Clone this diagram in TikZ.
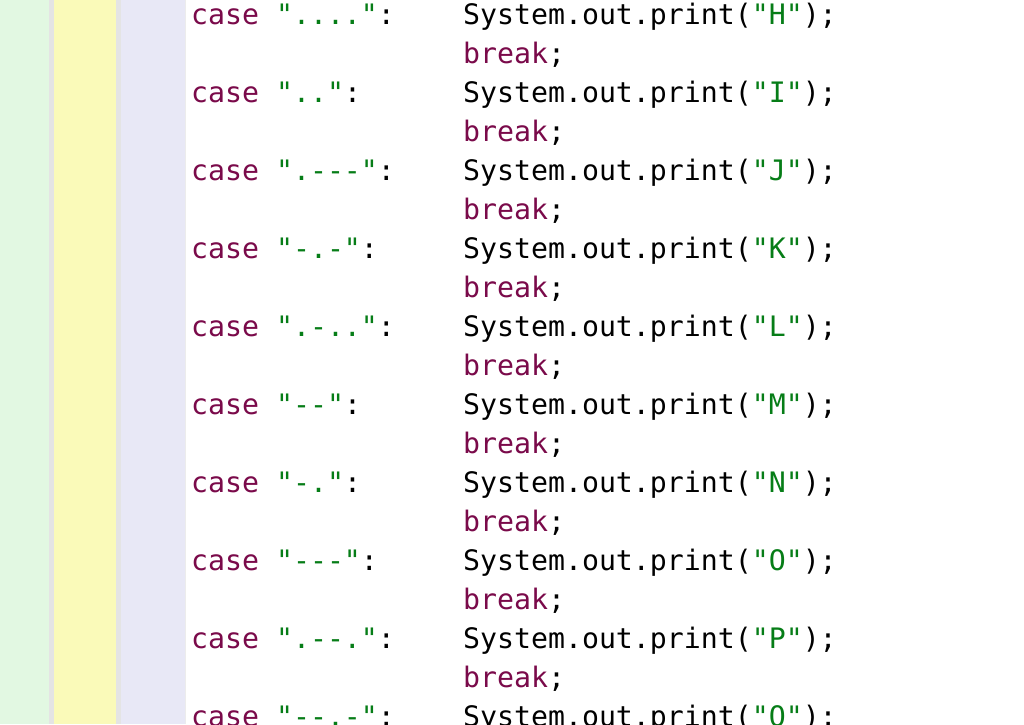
\documentclass[tikz,border=0pt]{standalone}
\usepackage{fontspec}
\setmonofont{DejaVu Sans Mono}
\definecolor{kw}{HTML}{7A0A4A}
\definecolor{str}{HTML}{067D17}
\definecolor{gr}{HTML}{E2F8E2}
\definecolor{ye}{HTML}{FAFAB9}
\definecolor{la}{HTML}{E8E8F6}
\definecolor{sep}{HTML}{E4E4E4}
\newcommand\caserow[3]{%
  \node[codeline] (c#1) at (191,{24+78*#1}) {\textcolor{kw}{case} \textcolor{str}{"#2"}:};
  \node[codeline] (p#1) at (463,{24+78*#1}) {System.out.print(\textcolor{str}{"#3"});};
  \node[codeline] (b#1) at (463,{63+78*#1}) {\textcolor{kw}{break};};}
\begin{document}
\begin{tikzpicture}[x=1pt,y=-1pt,
  codeline/.style={anchor=base west,inner sep=0pt,font=\ttfamily\fontsize{28.2}{30}\selectfont}]
\useasboundingbox (0,0) rectangle (1024,724);
\clip (0,0) rectangle (1024,724);
\fill[white] (0,0) rectangle (1024,724);
\fill[gr] (0,0) rectangle (49,724);
\fill[sep] (49,0) rectangle (54,724);
\fill[ye] (54,0) rectangle (116,724);
\fill[sep] (116,0) rectangle (121,724);
\fill[la] (121,0) rectangle (185,724);
\fill[sep!70!white] (185,0) rectangle (186,724);
\caserow{0}{....}{H}
\caserow{1}{..}{I}
\caserow{2}{.---}{J}
\caserow{3}{-.-}{K}
\caserow{4}{.-..}{L}
\caserow{5}{--}{M}
\caserow{6}{-.}{N}
\caserow{7}{---}{O}
\caserow{8}{.--.}{P}
\caserow{9}{--.-}{Q}
\end{tikzpicture}
\end{document}
